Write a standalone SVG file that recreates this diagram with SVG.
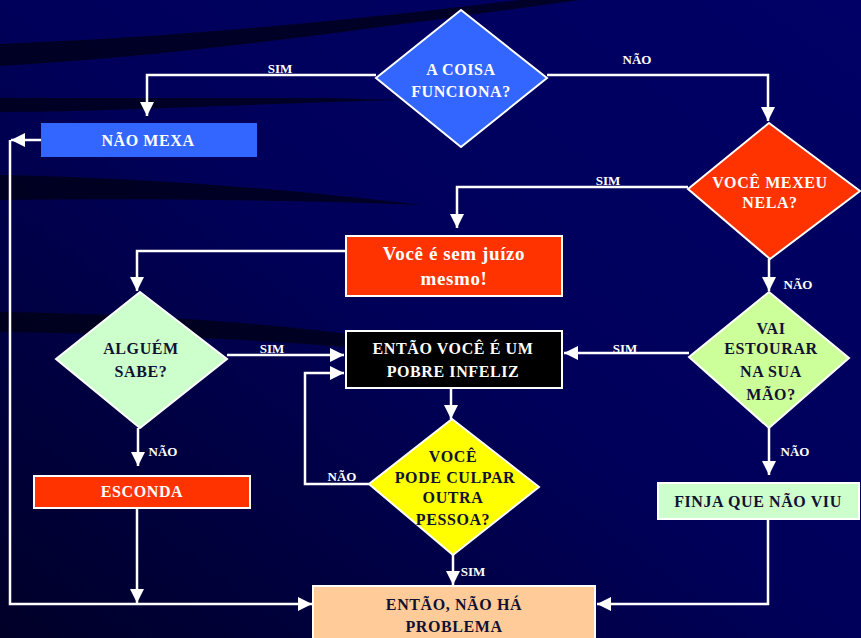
<svg xmlns="http://www.w3.org/2000/svg" width="861" height="638" viewBox="0 0 861 638">
<defs>
<linearGradient id="bg" x1="0" y1="1" x2="1" y2="0">
<stop offset="0" stop-color="#000028"/>
<stop offset="0.5" stop-color="#00005a"/>
<stop offset="1" stop-color="#000066"/>
</linearGradient>
<marker id="ah" viewBox="0 0 10 10" refX="10" refY="5" markerWidth="14" markerHeight="14" markerUnits="userSpaceOnUse" orient="auto">
<path d="M0,0 L10,5 L0,10 z" fill="#fff"/>
</marker>
<style>
.ln{fill:none;stroke:#fff;stroke-width:2.5}
.shape{stroke:#fff;stroke-width:2}
.t{font-family:"Liberation Serif","Times New Roman",serif;font-weight:bold;text-anchor:middle;font-size:16px;letter-spacing:0.6px}
.w{fill:#fff}
.d{fill:#111133}
.lbl{font-family:"Liberation Serif","Times New Roman",serif;font-weight:bold;font-size:13px;fill:#fff;text-anchor:middle}
.streak{fill:#000010}
</style>
</defs>
<rect width="861" height="638" fill="url(#bg)"/>
<g id="background-streaks" opacity="0.7">
<path class="streak" d="M0,44 C150,38 300,26 520,0 L580,0 C360,30 180,56 0,66 Z"/>
<path class="streak" d="M0,98 L330,98 L400,100 C250,104 100,112 0,112 Z"/>
<path class="streak" d="M0,175 C150,178 300,190 420,205 C300,200 120,198 0,200 Z"/>
<path class="streak" d="M0,312 C200,315 380,330 560,370 C380,345 200,335 0,332 Z"/>
</g>
<g id="connectors">
<path class="ln" d="M376,75 H147 V116" marker-end="url(#ah)"/>
<path class="ln" d="M547,75 H768 V121" marker-end="url(#ah)"/>
<path class="ln" d="M688,187 H457 V228" marker-end="url(#ah)"/>
<path class="ln" d="M346,251 H137 V291" marker-end="url(#ah)"/>
<path class="ln" d="M227,355 H344" marker-end="url(#ah)"/>
<path class="ln" d="M138,428 V466" marker-end="url(#ah)"/>
<path class="ln" d="M137,508 V603" marker-end="url(#ah)"/>
<path class="ln" d="M41,140 H11" marker-end="url(#ah)"/>
<path class="ln" d="M10,140 V604 H312" marker-end="url(#ah)"/>
<path class="ln" d="M769,259 V291" marker-end="url(#ah)"/>
<path class="ln" d="M689,353 H564" marker-end="url(#ah)"/>
<path class="ln" d="M769,428 V475" marker-end="url(#ah)"/>
<path class="ln" d="M768,519 V604 H597" marker-end="url(#ah)"/>
<path class="ln" d="M451,388 V419" marker-end="url(#ah)"/>
<path class="ln" d="M369,484 H305 V373 H344" marker-end="url(#ah)"/>
<path class="ln" d="M453,555 V585" marker-end="url(#ah)"/>
<text class="lbl" x="280" y="73">SIM</text>
<text class="lbl" x="637" y="64">NÃO</text>
<text class="lbl" x="608" y="185">SIM</text>
<text class="lbl" x="798" y="289">NÃO</text>
<text class="lbl" x="272" y="353">SIM</text>
<text class="lbl" x="163" y="456">NÃO</text>
<text class="lbl" x="625" y="353">SIM</text>
<text class="lbl" x="795" y="456">NÃO</text>
<text class="lbl" x="342" y="481">NÃO</text>
<text class="lbl" x="473" y="576">SIM</text>
</g>
<g id="n-coisa-funciona">
<polygon class="shape" points="461,10 547,78 461,147 376,78" fill="#3366FF"/>
<text class="t w" x="461" y="75">A COISA</text>
<text class="t w" x="461" y="97">FUNCIONA?</text>
</g>
<g id="n-nao-mexa">
<rect x="41" y="123" width="216" height="34" fill="#3366FF"/>
<text class="t w" x="148" y="146">NÃO MEXA</text>
</g>
<g id="n-voce-mexeu">
<polygon class="shape" points="769,123 860,191 770,259 688,189" fill="#FF3300"/>
<text class="t w" x="770" y="188">VOCÊ MEXEU</text>
<text class="t w" x="770" y="208">NELA?</text>
</g>
<g id="n-sem-juizo">
<rect class="shape" x="346" y="236" width="216" height="60" fill="#FF3300"/>
<text class="t w" x="454" y="260" style="font-size:19px">Você é sem juízo</text>
<text class="t w" x="454" y="285" style="font-size:19px">mesmo!</text>
</g>
<g id="n-alguem-sabe">
<polygon class="shape" points="140,292 227,359 140,428 56,359" fill="#CCFFCC"/>
<text class="t d" x="141" y="354">ALGUÉM</text>
<text class="t d" x="141" y="377">SABE?</text>
</g>
<g id="n-pobre-infeliz">
<rect class="shape" x="346" y="331" width="216" height="57" fill="#000000"/>
<text class="t w" x="453" y="354">ENTÃO VOCÊ É UM</text>
<text class="t w" x="453" y="377">POBRE INFELIZ</text>
</g>
<g id="n-vai-estourar">
<polygon class="shape" points="769,292 849,358 769,428 689,357" fill="#CCFF99"/>
<text class="t d" x="771" y="334">VAI</text>
<text class="t d" x="771" y="354">ESTOURAR</text>
<text class="t d" x="771" y="377">NA SUA</text>
<text class="t d" x="771" y="400">MÃO?</text>
</g>
<g id="n-culpar">
<polygon class="shape" points="452,419 539,487 453,555 369,484" fill="#FFFF00"/>
<text class="t d" x="453" y="462">VOCÊ</text>
<text class="t d" x="455" y="483">PODE CULPAR</text>
<text class="t d" x="453" y="503">OUTRA</text>
<text class="t d" x="453" y="525">PESSOA?</text>
</g>
<g id="n-esconda">
<rect class="shape" x="34" y="476" width="216" height="32" fill="#FF3300"/>
<text class="t w" x="142" y="497">ESCONDA</text>
</g>
<g id="n-finja">
<rect class="shape" x="658" y="483" width="201" height="36" fill="#CCFFCC"/>
<text class="t d" x="758" y="507">FINJA QUE NÃO VIU</text>
</g>
<g id="n-sem-problema">
<rect class="shape" x="313" y="586" width="282" height="60" fill="#FFCC99"/>
<text class="t d" x="454" y="610">ENTÃO, NÃO HÁ</text>
<text class="t d" x="454" y="632">PROBLEMA</text>
</g>
</svg>
